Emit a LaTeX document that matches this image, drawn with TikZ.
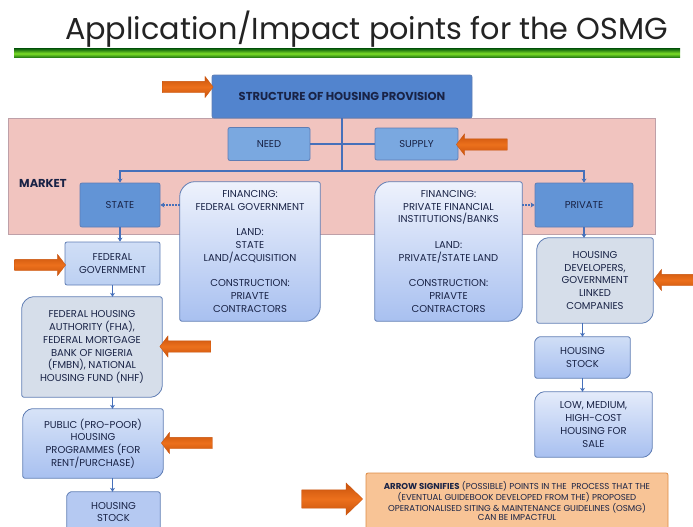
\documentclass[tikz,border=0pt]{standalone}
\usepackage{fontspec}
\setmainfont{Poppins}
\usepackage{xcolor}
\usetikzlibrary{arrows.meta}
\usetikzlibrary{shapes.arrows}
\usetikzlibrary{backgrounds}
\usetikzlibrary{calc}
\definecolor{inkblue}{RGB}{25,35,70}
\definecolor{titleink}{RGB}{35,35,35}
\definecolor{topblue}{RGB}{82,132,206}
\definecolor{stateblue}{RGB}{98,148,214}
\definecolor{needblue}{RGB}{122,168,224}
\definecolor{paleblue}{RGB}{188,208,242}
\definecolor{boxline}{RGB}{95,125,180}
\definecolor{linkblue}{RGB}{70,112,186}
\definecolor{softtop}{RGB}{238,242,252}
\definecolor{softbot}{RGB}{168,192,240}
\definecolor{greyblue}{RGB}{214,222,234}
\definecolor{marketpink}{RGB}{241,196,191}
\definecolor{marketline}{RGB}{190,160,168}
\definecolor{impactorange}{RGB}{236,112,28}
\definecolor{impactdark}{RGB}{200,82,12}
\definecolor{legendfill}{RGB}{248,196,150}
\definecolor{legendline}{RGB}{222,140,70}
\definecolor{bardark}{RGB}{20,105,15}
\definecolor{barlight}{RGB}{125,222,40}

\tikzset{
  box/.style={draw=boxline, line width=0.8pt, rounded corners=2pt, align=center,
    text=inkblue, font=\fontsize{10}{12.8}\selectfont, inner sep=2pt},
  soft/.style={align=center, text=inkblue, font=\fontsize{10}{12.8}\selectfont, inner sep=0pt},
  softline/.style={draw=boxline, line width=0.8pt, rounded corners=2pt},
  link/.style={draw=linkblue, line width=1.6pt, -{Stealth[length=4pt,width=5pt]}},
  plainlink/.style={draw=linkblue, line width=1.6pt},
  dotlink/.style={draw=linkblue, line width=1.2pt, dash pattern=on 1.5pt off 1.5pt,
    -{Stealth[length=4pt,width=5pt]}},
  impact/.style={single arrow, top color=impactdark, bottom color=impactdark,
    middle color=impactorange, draw=impactdark, line width=0.3pt,
    inner xsep=0pt, inner ysep=5.5pt, minimum height=51pt,
    single arrow head extend=5pt, single arrow tip angle=105}
}

% frame with big rounded top-left and bottom-right corners
\newcommand{\diagframe}[3][]{%
  \path[#1] ([yshift=-#3]#2.north west)
    .. controls ([yshift=-0.45*#3]#2.north west) and ([xshift=0.45*#3]#2.north west) ..
    ([xshift=#3]#2.north west) -- (#2.north east) -- ([yshift=#3]#2.south east)
    .. controls ([yshift=0.45*#3]#2.south east) and ([xshift=-0.45*#3]#2.south east) ..
    ([xshift=-#3]#2.south east) -- (#2.south west) -- cycle;}

\begin{document}
\begin{tikzpicture}[x=1pt,y=-1pt]
  \useasboundingbox (0,0) rectangle (693,527);

  % heading
  \node[text=titleink, font=\fontsize{30.3}{33}\selectfont, inner sep=0pt] (title) at (366.5,29)
    {Application/Impact points for the OSMG};
  \shade[top color=bardark, bottom color=bardark, middle color=barlight] (14,49) rectangle (680,58);

  \node[box, fill=topblue, font=\bfseries\fontsize{11.5}{13}\selectfont,
    minimum width=260pt, minimum height=43pt] (structure) at (342,96.5) {STRUCTURE OF HOUSING PROVISION};

  % market
  \node[box, fill=needblue, minimum width=82pt, minimum height=33pt] (need) at (269,144) {NEED};
  \node[box, fill=needblue, minimum width=83pt, minimum height=32pt] (supply) at (416.5,144) {SUPPLY};
  \node[text=inkblue, font=\bfseries\fontsize{11.5}{13}\selectfont, anchor=west, inner sep=0pt]
    (market) at (19,183) {MARKET};
  \node[box, fill=stateblue, minimum width=80pt, minimum height=44pt] (state) at (120,205) {STATE};
  \node[box, fill=stateblue, minimum width=98pt, minimum height=44pt] (private) at (584,205) {PRIVATE};

  \node[soft, minimum width=140pt, minimum height=139pt] (finl) at (250,251.5)
    {FINANCING:\\FEDERAL GOVERNMENT\\[12.8pt]LAND:\\STATE\\LAND/ACQUISITION\\[12.8pt]CONSTRUCTION:\\PRIAVTE\\CONTRACTORS};
  \node[soft, minimum width=147pt, minimum height=139pt] (finr) at (448.5,251.5)
    {FINANCING:\\PRIVATE FINANCIAL\\INSTITUTIONS/BANKS\\[12.8pt]LAND:\\PRIVATE/STATE LAND\\[12.8pt]CONSTRUCTION:\\PRIAVTE\\CONTRACTORS};

  % state side
  \node[box, top color=paleblue!70!white, bottom color=paleblue, minimum width=95pt, minimum height=43pt]
    (fedgov) at (112.5,263.5) {FEDERAL\\GOVERNMENT};
  \node[soft, minimum width=140pt, minimum height=100pt] (fha) at (92,347)
    {FEDERAL HOUSING\\AUTHORITY (FHA),\\FEDERAL MORTGAGE\\BANK OF NIGERIA\\(FMBN), NATIONAL\\HOUSING FUND (NHF)};
  \node[soft, minimum width=140pt, minimum height=69pt] (public) at (93,443.5)
    {PUBLIC (PRO-POOR)\\HOUSING\\PROGRAMMES (FOR\\RENT/PURCHASE)};
  \node[soft, minimum width=93pt, minimum height=40pt] (stockl) at (113.5,512) {HOUSING\\STOCK};

  % private side
  \node[soft, minimum width=116pt, minimum height=85pt] (devs) at (595,280.5)
    {HOUSING\\DEVELOPERS,\\GOVERNMENT\\LINKED\\COMPANIES};
  \node[soft, minimum width=95pt, minimum height=41pt] (stockr) at (582.5,357.5) {HOUSING\\STOCK};
  \node[soft, minimum width=117pt, minimum height=65pt] (sale) at (593.5,424.5)
    {LOW, MEDIUM,\\HIGH-COST\\HOUSING FOR\\SALE};

  % key
  \node[box, fill=legendfill, draw=legendline, font=\fontsize{8.6}{8.8}\selectfont,
    minimum width=302pt, minimum height=56pt] (key) at (517,501)
    {\textbf{ARROW SIGNIFIES} (POSSIBLE) POINTS IN THE\ \ PROCESS THAT THE\\
     (EVENTUAL GUIDEBOOK DEVELOPED FROM THE) PROPOSED\\
     OPERATIONALISED SITING \& MAINTENANCE GUIDELINES (OSMG)\\
     CAN BE IMPACTFUL};

  \begin{scope}[on background layer]
    \draw[fill=marketpink, draw=marketline, line width=0.8pt] (8,118) rectangle (655,234);
    \diagframe[softline, top color=softtop, bottom color=softbot]{finl}{16pt}
    \diagframe[softline, top color=softtop, bottom color=softbot]{finr}{16pt}
    \diagframe[softline, fill=greyblue]{fha}{13pt}
    \diagframe[softline, top color=paleblue!60!white, bottom color=softbot]{public}{11pt}
    \diagframe[softline, fill=softbot!85!white]{stockl}{6pt}
    \diagframe[softline, fill=greyblue]{devs}{13pt}
    \diagframe[softline, top color=paleblue!70!white, bottom color=softbot]{stockr}{7pt}
    \diagframe[softline, top color=softtop!80!paleblue, bottom color=softbot]{sale}{11pt}
  \end{scope}

  % connectors
  \coordinate (hub) at (342,171);
  \draw[plainlink] (structure.south) -- (hub);
  \draw[plainlink] (need.east) -- (supply.west);
  \draw[link] (hub) -| (state.north);
  \draw[link] (hub) -| (private.north);
  \draw[dotlink] (finl.west |- state.east) -- (state.east);
  \draw[dotlink] (finr.east |- private.west) -- (private.west);
  \draw[link] (state.south) -- (state.south |- fedgov.north);
  \draw[link] (fedgov.south) -- (fedgov.south |- fha.north);
  \draw[link] (fedgov.south |- fha.south) -- (fedgov.south |- public.north);
  \draw[link] (fedgov.south |- public.south) -- (fedgov.south |- stockl.north);
  \draw[link] (private.south) -- (private.south |- devs.north);
  \draw[link] (stockr.north |- devs.south) -- (stockr.north);
  \draw[link] (stockr.south) -- (stockr.south |- sale.north);

  % impact points
  \node[impact] (pstruct) at (185.5,87) {};
  \node[impact, shape border rotate=180] (psupply) at (484,144.5) {};
  \node[impact] (pfedgov) at (38,265) {};
  \node[impact, shape border rotate=180] (pfha) at (187.5,346.5) {};
  \node[impact, shape border rotate=180] (ppublic) at (189,443) {};
  \node[impact, shape border rotate=180] (pdevs) at (681,280) {};
  \node[impact, minimum height=61pt, inner ysep=9pt, single arrow head extend=7pt,
    single arrow tip angle=88] (pkey) at (327.5,499) {};
\end{tikzpicture}
\end{document}
